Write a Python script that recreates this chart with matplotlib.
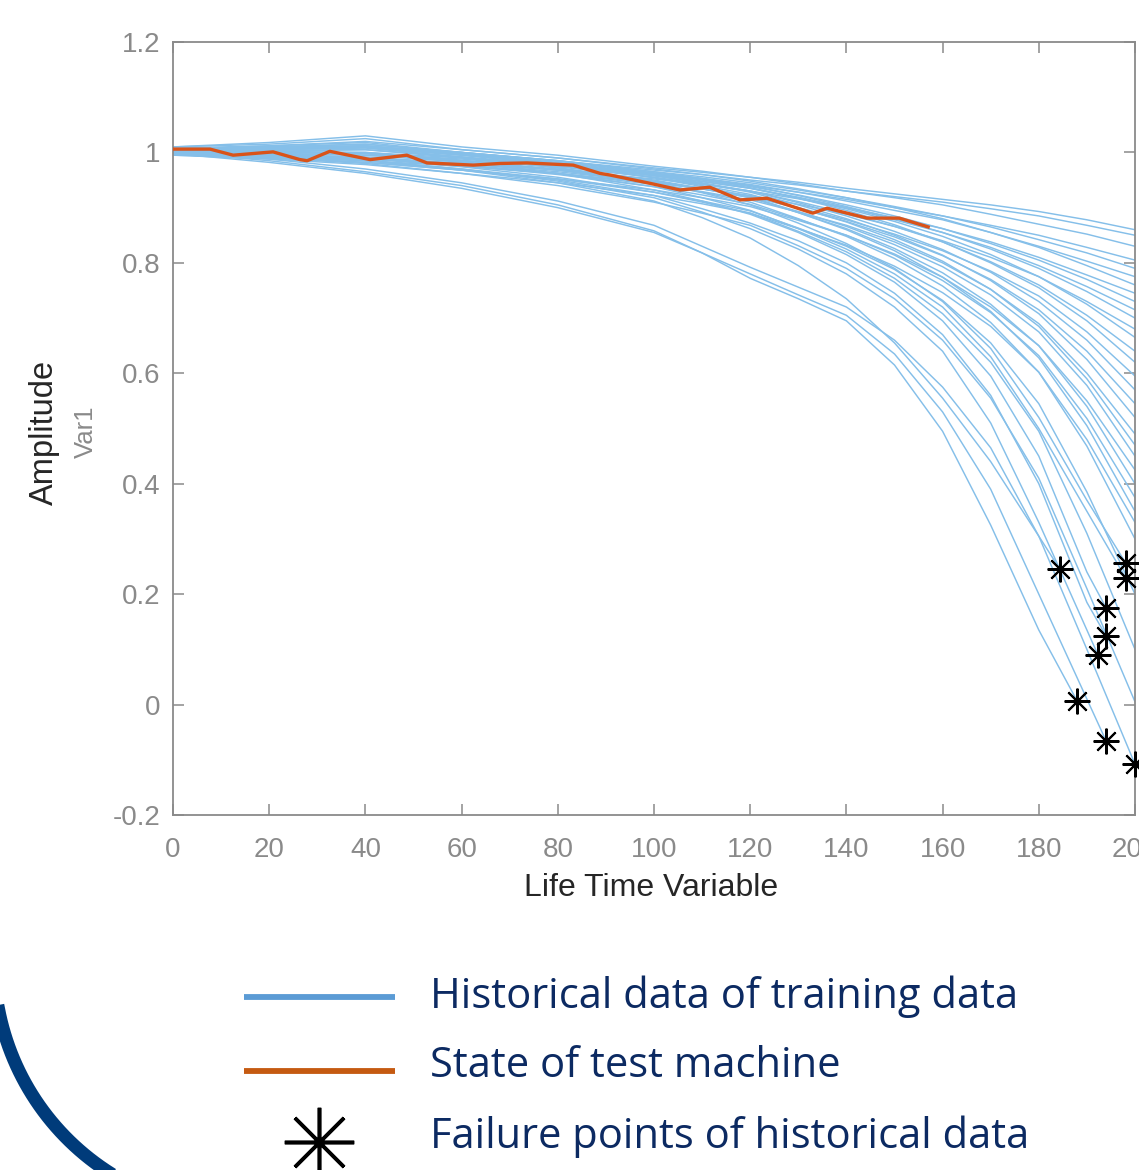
import numpy as np
import matplotlib
matplotlib.use("Agg")
import matplotlib.pyplot as plt

plt.rcParams['font.family'] = ['Liberation Sans', 'DejaVu Sans']

nan = np.nan

grid_x = [0, 20, 40, 60, 80, 100, 110, 120, 130, 140, 150, 160, 170, 180, 190, 200, 210]

# training curves that run on past the right edge
hist_curves = [
    [1.005, 1.012, 1.020, 1.005, 0.990, 0.972, 0.964, 0.955, 0.946, 0.935, 0.925, 0.915, 0.905, 0.893, 0.878, 0.860, 0.848],
    [1.000, 1.005, 1.010, 1.000, 0.985, 0.968, 0.960, 0.950, 0.941, 0.930, 0.920, 0.910, 0.898, 0.885, 0.868, 0.850, 0.838],
    [1.010, 1.018, 1.030, 1.010, 0.995, 0.975, 0.966, 0.955, 0.943, 0.930, 0.918, 0.905, 0.888, 0.870, 0.852, 0.830, 0.815],
    [0.995, 0.998, 0.995, 0.985, 0.975, 0.960, 0.951, 0.940, 0.928, 0.915, 0.900, 0.885, 0.868, 0.850, 0.828, 0.805, 0.790],
    [1.005, 1.010, 1.015, 1.000, 0.985, 0.965, 0.956, 0.945, 0.932, 0.918, 0.902, 0.885, 0.865, 0.842, 0.818, 0.790, 0.775],
    [1.000, 1.000, 1.000, 0.990, 0.978, 0.962, 0.953, 0.942, 0.928, 0.912, 0.895, 0.878, 0.855, 0.830, 0.803, 0.775, 0.758],
    [1.010, 1.015, 1.025, 1.005, 0.990, 0.970, 0.960, 0.948, 0.934, 0.918, 0.900, 0.880, 0.855, 0.828, 0.795, 0.760, 0.742],
    [0.998, 0.995, 0.990, 0.980, 0.968, 0.952, 0.942, 0.930, 0.916, 0.900, 0.882, 0.862, 0.838, 0.810, 0.778, 0.745, 0.727],
    [1.003, 1.008, 1.012, 0.998, 0.982, 0.962, 0.951, 0.938, 0.923, 0.905, 0.885, 0.862, 0.835, 0.805, 0.770, 0.730, 0.710],
    [1.000, 1.002, 1.005, 0.992, 0.978, 0.958, 0.947, 0.935, 0.919, 0.900, 0.878, 0.855, 0.828, 0.795, 0.757, 0.715, 0.695],
    [1.008, 1.012, 1.018, 1.000, 0.985, 0.965, 0.953, 0.940, 0.922, 0.902, 0.880, 0.855, 0.825, 0.790, 0.748, 0.700, 0.676],
    [0.995, 0.992, 0.985, 0.975, 0.962, 0.945, 0.934, 0.922, 0.906, 0.888, 0.866, 0.840, 0.810, 0.775, 0.730, 0.680, 0.655],
    [1.002, 1.005, 1.008, 0.995, 0.980, 0.960, 0.948, 0.935, 0.917, 0.898, 0.875, 0.848, 0.815, 0.775, 0.725, 0.665, 0.637],
    [1.000, 1.000, 0.998, 0.988, 0.974, 0.955, 0.943, 0.930, 0.911, 0.890, 0.866, 0.838, 0.802, 0.760, 0.705, 0.640, 0.608],
    [1.005, 1.010, 1.015, 1.000, 0.984, 0.963, 0.950, 0.936, 0.917, 0.895, 0.869, 0.838, 0.800, 0.755, 0.695, 0.620, 0.585],
    [0.998, 0.996, 0.992, 0.980, 0.965, 0.946, 0.934, 0.920, 0.900, 0.878, 0.852, 0.822, 0.785, 0.740, 0.675, 0.595, 0.558],
    [1.003, 1.006, 1.010, 0.996, 0.980, 0.958, 0.945, 0.930, 0.909, 0.885, 0.857, 0.824, 0.783, 0.730, 0.660, 0.570, 0.528],
    [1.000, 0.998, 0.995, 0.983, 0.968, 0.948, 0.935, 0.920, 0.899, 0.875, 0.847, 0.813, 0.770, 0.715, 0.640, 0.545, 0.500],
    [1.006, 1.008, 1.012, 0.998, 0.980, 0.958, 0.944, 0.928, 0.905, 0.880, 0.850, 0.814, 0.768, 0.708, 0.625, 0.520, 0.470],
    [0.997, 0.994, 0.988, 0.976, 0.962, 0.942, 0.929, 0.914, 0.892, 0.868, 0.838, 0.800, 0.752, 0.690, 0.600, 0.490, 0.435],
    [1.004, 1.007, 1.010, 0.995, 0.978, 0.955, 0.940, 0.924, 0.900, 0.874, 0.842, 0.803, 0.752, 0.685, 0.590, 0.470, 0.410],
    [1.000, 1.000, 0.998, 0.985, 0.970, 0.948, 0.934, 0.918, 0.893, 0.866, 0.833, 0.793, 0.742, 0.675, 0.578, 0.450, 0.390],
    [0.996, 0.990, 0.982, 0.968, 0.952, 0.932, 0.918, 0.902, 0.877, 0.850, 0.816, 0.774, 0.720, 0.650, 0.550, 0.425, 0.362],
    [1.002, 1.004, 1.005, 0.990, 0.972, 0.950, 0.935, 0.918, 0.891, 0.862, 0.826, 0.782, 0.725, 0.650, 0.540, 0.400, 0.335],
    [0.999, 0.996, 0.990, 0.976, 0.960, 0.938, 0.923, 0.906, 0.879, 0.850, 0.814, 0.768, 0.710, 0.632, 0.518, 0.375, 0.308],
    [1.004, 1.008, 1.012, 0.996, 0.978, 0.954, 0.938, 0.920, 0.891, 0.860, 0.822, 0.774, 0.712, 0.628, 0.505, 0.350, 0.280],
    [0.995, 0.988, 0.978, 0.962, 0.945, 0.922, 0.907, 0.890, 0.862, 0.832, 0.794, 0.746, 0.685, 0.602, 0.480, 0.330, 0.260],
    [1.001, 1.002, 1.000, 0.986, 0.968, 0.944, 0.928, 0.910, 0.880, 0.848, 0.808, 0.758, 0.692, 0.602, 0.468, 0.300, 0.225],
    [0.998, 0.994, 0.985, 0.970, 0.952, 0.928, 0.912, 0.894, 0.863, 0.830, 0.788, 0.732, 0.655, 0.545, 0.385, 0.200, 0.120],
    [1.000, 0.997, 0.990, 0.974, 0.955, 0.928, 0.910, 0.890, 0.857, 0.820, 0.772, 0.708, 0.620, 0.495, 0.310, 0.100, 0.010],
    [0.996, 0.990, 0.980, 0.962, 0.940, 0.910, 0.890, 0.868, 0.831, 0.790, 0.735, 0.660, 0.555, 0.410, 0.210, 0.005, -0.090],
]

# training curves that stop at a failure point (values on grid_x before the failure)
fail_curves = [
    [1.000, 0.994, 0.985, 0.968, 0.945, 0.912, 0.882, 0.845, 0.795, 0.735, 0.655, 0.555, 0.440, 0.305, nan, nan, nan],
    [1.000, 0.985, 0.965, 0.940, 0.905, 0.858, 0.818, 0.772, 0.735, 0.695, 0.615, 0.495, 0.325, 0.135, nan, nan, nan],
    [0.998, 0.982, 0.962, 0.935, 0.900, 0.855, 0.818, 0.780, 0.742, 0.705, 0.635, 0.530, 0.390, 0.200, 0.010, nan, nan],
    [1.000, 0.988, 0.970, 0.945, 0.912, 0.868, 0.830, 0.792, 0.756, 0.720, 0.660, 0.575, 0.465, 0.305, 0.100, nan, nan],
    [1.002, 0.996, 0.986, 0.970, 0.948, 0.918, 0.892, 0.862, 0.825, 0.780, 0.720, 0.640, 0.510, 0.330, 0.135, nan, nan],
    [0.998, 0.992, 0.982, 0.968, 0.950, 0.922, 0.898, 0.872, 0.840, 0.800, 0.745, 0.670, 0.560, 0.400, 0.185, nan, nan],
    [1.004, 1.002, 0.998, 0.982, 0.962, 0.932, 0.912, 0.888, 0.855, 0.815, 0.765, 0.695, 0.595, 0.450, 0.240, nan, nan],
    [1.002, 1.006, 1.008, 0.992, 0.972, 0.945, 0.927, 0.905, 0.872, 0.835, 0.790, 0.730, 0.645, 0.520, 0.370, nan, nan],
    [0.996, 0.993, 0.990, 0.978, 0.962, 0.938, 0.918, 0.895, 0.862, 0.825, 0.780, 0.720, 0.630, 0.500, 0.350, nan, nan],
]
fail_x = [184.4, 188.0, 194.0, 200.0, 192.3, 194.0, 194.0, 198.1, 198.1]
fail_y = [0.245, 0.006, -0.066, -0.108, 0.090, 0.124, 0.175, 0.256, 0.229]

# state of the test machine
test_x = [0, 7.7, 12.5, 20.8, 26.4, 27.9, 32.6, 41.0, 48.6, 52.8, 62.4, 68.0, 73.6, 83.2,
          88.8, 90.9, 99.2, 105.4, 111.6, 117.9, 123.5, 133.0, 136.0, 144.3, 151.0, 157.0]
test_y = [1.006, 1.006, 0.995, 1.001, 0.987, 0.985, 1.002, 0.987, 0.995, 0.981, 0.977, 0.980, 0.981, 0.977,
          0.962, 0.959, 0.944, 0.932, 0.937, 0.914, 0.917, 0.890, 0.899, 0.881, 0.881, 0.865]

x_ticks = list(range(0, 201, 20))
y_ticks = [-0.2, 0, 0.2, 0.4, 0.6, 0.8, 1, 1.2]
y_ticklabels = ['-0.2', '0', '0.2', '0.4', '0.6', '0.8', '1', '1.2']

legend_labels = ['Historical data of training data', 'State of test machine',
                 'Failure points of historical data']

W, H = 1139, 1170
fig = plt.figure(figsize=(W / 100, H / 100), dpi=100)
fig.patch.set_facecolor('white')

ax = fig.add_axes([173 / W, (H - 815) / H, (1135 - 173) / W, 773 / H])

blue = '#85bfe9'
gx = np.array(grid_x, dtype=float)
for row in hist_curves:
    ax.plot(gx, row, color=blue, lw=1.05, zorder=2)
for row, fx, fy in zip(fail_curves, fail_x, fail_y):
    r = np.array(row, dtype=float)
    keep = (gx < fx) & ~np.isnan(r)
    ax.plot(np.append(gx[keep], fx), np.append(r[keep], fy), color=blue, lw=1.05, zorder=2)

ax.plot(test_x, test_y, color='#d95319', lw=2.4, zorder=3)
ax.plot(fail_x, fail_y, ls='none', marker=(8, 2, 0), ms=18.5, mew=1.5, color='black',
        zorder=4, clip_on=False)

ax.set_xlim(0, 200)
ax.set_ylim(-0.2, 1.2)
ax.set_xticks(x_ticks)
ax.set_yticks(y_ticks)
ax.set_yticklabels(y_ticklabels)
grey = '#8a8a8a'
ax.tick_params(direction='in', length=8, width=1.1, colors=grey, labelsize=20,
               top=True, right=True, pad=9)
ax.tick_params(axis='x', pad=16)
for s in ax.spines.values():
    s.set_color(grey)
    s.set_linewidth(1.3)

# overlay in pixel coordinates for labels, legend and slide border
ov = fig.add_axes([0, 0, 1, 1], facecolor='none')
ov.set_xlim(0, W)
ov.set_ylim(H, 0)
ov.axis('off')

ov.text(651, 888, 'Life Time Variable', fontsize=23, color='#262626', ha='center', va='center')
ov.text(44, 432, 'Amplitude', fontsize=23.5, color='#262626', rotation=90, ha='center', va='center')
ov.text(86, 432, 'Var1', fontsize=18.5, color=grey, rotation=90, ha='center', va='center')

# legend drawn by hand
ov.plot([244, 395], [997, 997], color='#5b9bd5', lw=4.2, solid_capstyle='butt')
ov.plot([244, 395], [1071, 1071], color='#c55a11', lw=4.2, solid_capstyle='butt')
ov.plot([319], [1142], marker=(8, 2, 0), ms=50, mew=2.6, color='black', clip_on=False)
for lab, yy in zip(legend_labels, [997, 1066, 1137]):
    ov.text(430, yy, lab, fontsize=30, color='#0c2a62', ha='left', va='center',
            family=['Open Sans', 'DejaVu Sans'])

# slide border: rounded corners on the left
r = 250
lx = -6
cx, top_cy, bot_cy = lx + r, 39, 962
t1 = np.linspace(np.pi * 1.5, np.pi, 60)
t2 = np.linspace(np.pi, np.pi * 0.5, 60)
bx = np.concatenate([cx + r * np.cos(t1), [lx, lx], cx + r * np.cos(t2)])
by = np.concatenate([top_cy + r * np.sin(t1), [top_cy, bot_cy], bot_cy + r * np.sin(t2)])
ov.plot(bx, by, color='#003b7a', lw=9.5, clip_on=False)

fig.savefig('out.png', dpi=100)
